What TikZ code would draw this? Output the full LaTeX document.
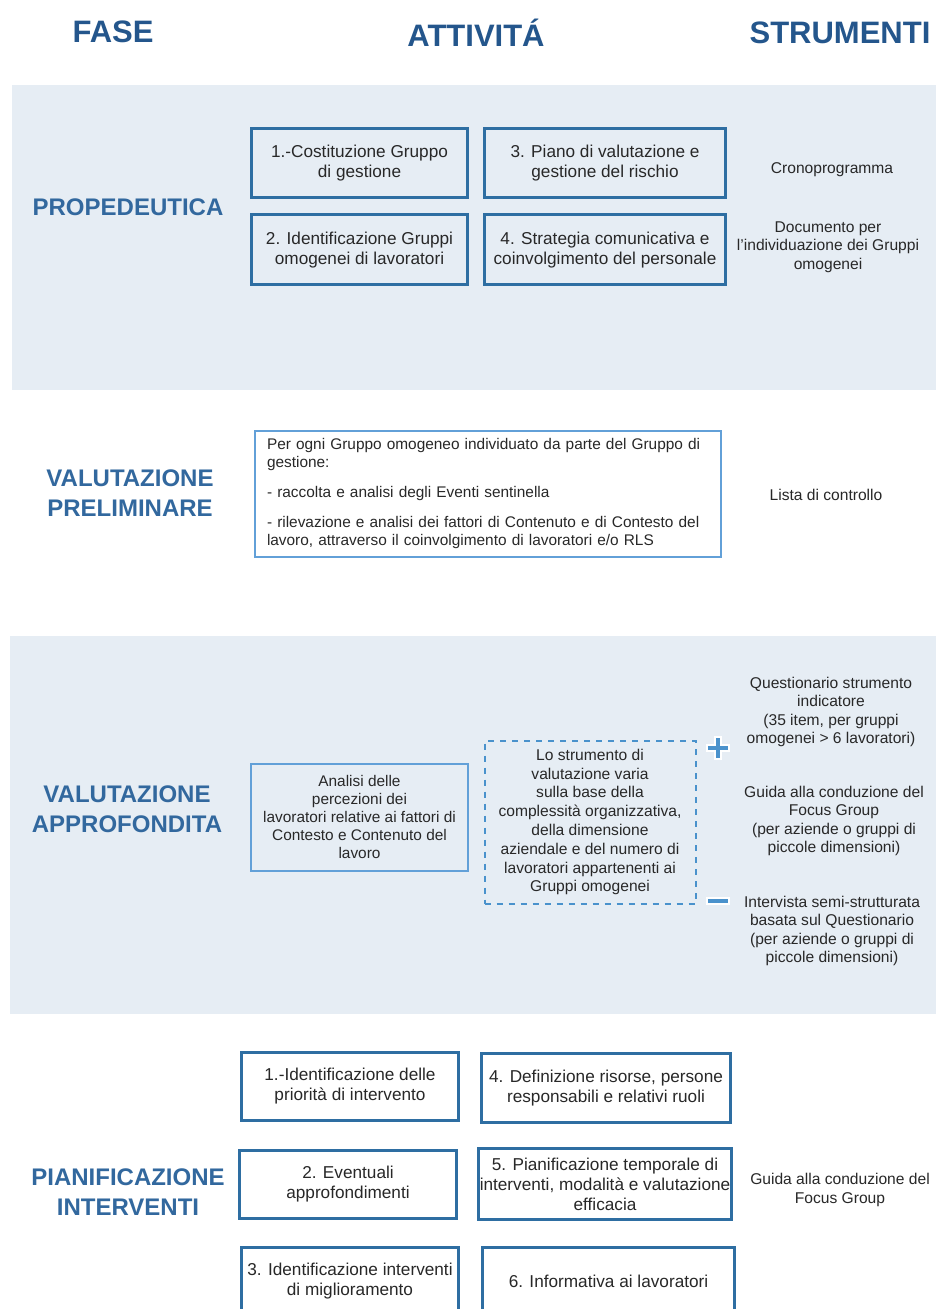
\documentclass[tikz,border=0pt]{standalone}
\usepackage{fontspec}
\setmainfont{Liberation Sans}
\usepackage{tikz}
\usetikzlibrary{positioning}
\definecolor{headblue}{RGB}{36,86,140}
\definecolor{phaseblue}{RGB}{50,104,158}
\definecolor{boxblue}{RGB}{46,110,162}
\definecolor{lightblue}{RGB}{98,160,216}
\definecolor{signblue}{RGB}{74,146,204}
\definecolor{bandgrey}{RGB}{230,237,244}
\definecolor{txtgrey}{RGB}{40,40,40}

\begin{document}
\begin{tikzpicture}[x=0.5pt,y=-0.5pt,
  head/.style={text=headblue,font=\fontsize{15.5}{18}\selectfont\bfseries},
  phase/.style={text=phaseblue,font=\fontsize{12}{15}\selectfont\bfseries,align=center},
  actbox/.style={draw=boxblue,line width=1.5pt,align=center,text=txtgrey,
    font=\fontsize{8.6}{10}\selectfont,inner sep=0pt},
  thinbox/.style={draw=lightblue,line width=1pt,align=center,text=txtgrey,
    font=\fontsize{7.7}{9}\selectfont,inner sep=0pt},
  tool/.style={align=center,text=txtgrey,font=\fontsize{7.8}{9.3}\selectfont}]
\useasboundingbox (0,0) rectangle (936,1309);
\clip (0,0) rectangle (936,1309);
\fill[white] (0,0) rectangle (936,1309);
\fill[bandgrey] (12,85) rectangle (936,390);
\fill[bandgrey] (10,636) rectangle (936,1014);

\node[head] (fase) at (113,32) {FASE};
\node[head] (attivita) at (476,33) {ATTIVITÁ};
\node[head] (strumenti) at (840,33) {STRUMENTI};

\node[phase] (proped) at (128,207) {PROPEDEUTICA};
\node[actbox,minimum width=108pt,minimum height=34.5pt] (p1) at (359.5,163.5) {1.-Costituzione Gruppo\\di gestione};
\node[actbox,minimum width=120.5pt,minimum height=34.5pt] (p3) at (605,163.5) {3. Piano di valutazione e\\gestione del rischio};
\node[actbox,minimum width=108pt,minimum height=35pt] (p2) at (359.5,250) {2. Identificazione Gruppi\\omogenei di lavoratori};
\node[actbox,minimum width=120.5pt,minimum height=35pt] (p4) at (605,250) {4. Strategia comunicativa e\\coinvolgimento del personale};
\node[tool] (crono) at (832,170) {Cronoprogramma};
\node[tool] (docu) at (828,247) {Documento per\\l'individuazione dei Gruppi\\omogenei};

\node[phase] (prelim) at (130,493) {VALUTAZIONE\\PRELIMINARE};
\node[thinbox,align=left,minimum width=233pt,minimum height=63pt,text width=221pt] (pbox) at (488,494)
  {Per ogni Gruppo omogeneo individuato da parte del Gruppo di\\gestione:\\[6pt]
   - raccolta e analisi degli Eventi sentinella\\[6pt]
   - rilevazione e analisi dei fattori di Contenuto e di Contesto del\\lavoro, attraverso il coinvolgimento di lavoratori e/o RLS};
\node[tool] (lista) at (826,495) {Lista di controllo};

\node[phase] (approf) at (127,809) {VALUTAZIONE\\APPROFONDITA};
\node[thinbox,minimum width=108.5pt,minimum height=53.5pt] (analisi) at (359.5,817)
  {Analisi delle\\percezioni dei\\lavoratori relative ai fattori di\\Contesto e Contenuto del\\lavoro};
\node[thinbox,draw=signblue,dashed,font=\fontsize{7.8}{9.4}\selectfont,minimum width=105.5pt,minimum height=81.5pt] (varia) at (590,822)
  {Lo strumento di\\valutazione varia\\sulla base della\\complessità organizzativa,\\della dimensione\\aziendale e del numero di\\lavoratori appartenenti ai\\Gruppi omogenei};
\node[tool] (quest) at (831,712) {Questionario strumento\\indicatore\\(35 item, per gruppi\\omogenei > 6 lavoratori)};
\node[tool] (guida) at (834,821) {Guida alla conduzione del\\Focus Group\\(per aziende o gruppi di\\piccole dimensioni)};
\node[tool] (interv) at (832,931) {Intervista semi-strutturata\\basata sul Questionario\\(per aziende o gruppi di\\piccole dimensioni)};
\coordinate (piu) at (718,748);
\coordinate (meno) at (718,901);
\draw[white,line width=4pt] ([xshift=-6pt]piu) -- ([xshift=6pt]piu) ([yshift=-6pt]piu) -- ([yshift=6pt]piu);
\draw[signblue,line width=2pt] ([xshift=-5pt]piu) -- ([xshift=5pt]piu) ([yshift=-5pt]piu) -- ([yshift=5pt]piu);
\draw[white,line width=4pt] ([xshift=-6pt]meno) -- ([xshift=6pt]meno);
\draw[signblue,line width=2pt] ([xshift=-5pt]meno) -- ([xshift=5pt]meno);

\node[phase] (pianif) at (128,1192) {PIANIFICAZIONE\\INTERVENTI};
\node[actbox,minimum width=108.5pt,minimum height=34pt] (i1) at (350,1086.5) {1.-Identificazione delle\\priorità di intervento};
\node[actbox,minimum width=124.5pt,minimum height=34.5pt] (i4) at (606,1088) {4. Definizione risorse, persone\\responsabili e relativi ruoli};
\node[actbox,minimum width=108.5pt,minimum height=34pt] (i2) at (348,1184.5) {2. Eventuali\\approfondimenti};
\node[actbox,minimum width=126.5pt,minimum height=35.5pt] (i5) at (605,1184) {5. Pianificazione temporale di\\interventi, modalità e valutazione\\efficacia};
\node[actbox,minimum width=108.5pt,minimum height=34pt] (i3) at (350,1281) {3. Identificazione interventi\\di miglioramento};
\node[actbox,minimum width=126pt,minimum height=34pt] (i6) at (608.5,1281) {6. Informativa ai lavoratori};
\node[tool] (guida2) at (840,1190) {Guida alla conduzione del\\Focus Group};
\end{tikzpicture}
\end{document}
